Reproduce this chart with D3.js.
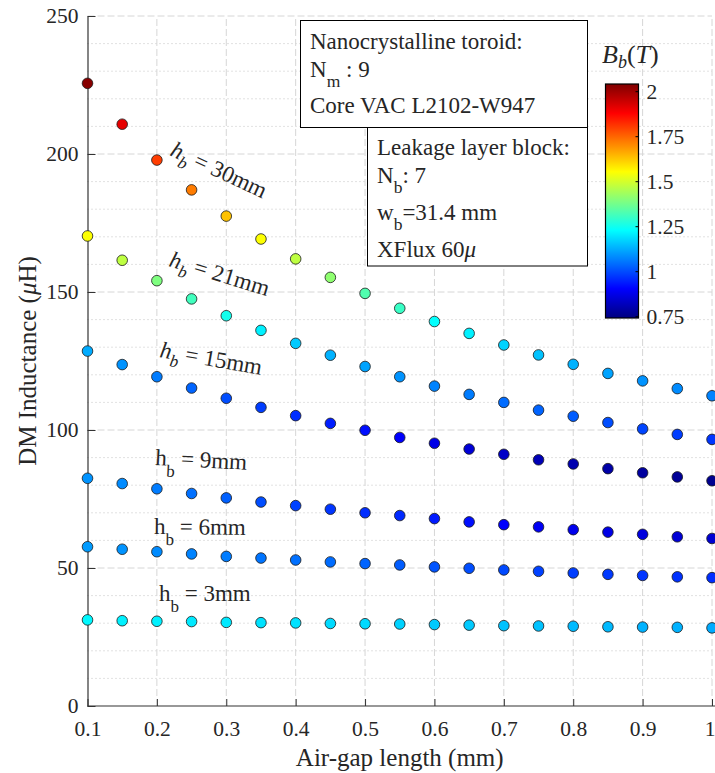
<!DOCTYPE html>
<html>
<head>
<meta charset="utf-8">
<script src="https://cdn.jsdelivr.net/npm/d3@7"></script>
<style>
  body { margin: 0; background: #fff; }
  svg { display: block; }
  text { font-family: "Liberation Serif", "Times New Roman", serif; fill: #262626; }
</style>
</head>
<body>
<div id="chart"></div>
<script>
// air-gap lengths (mm)
const airGap = [0.1, 0.15, 0.2, 0.25, 0.3, 0.35, 0.4, 0.45, 0.5, 0.55, 0.6, 0.65, 0.7, 0.75, 0.8, 0.85, 0.9, 0.95, 1.0];

// block heights
const hbNames = ['30', '21', '15', '9', '6', '3'];

// DM inductance (uH) per block height
const induct30 = [225.6, 210.8, 197.8, 187.0, 177.5, 169.2, 162.0, 155.3, 149.5, 144.1, 139.3, 135.0, 130.8, 127.2, 123.8, 120.5, 117.8, 115.0, 112.4];
const induct21 = [170.3, 161.5, 154.1, 147.5, 141.4, 136.1, 131.4, 127.1, 123.0, 119.3, 115.9, 112.9, 110.0, 107.2, 105.0, 102.7, 100.4, 98.4, 96.6];
const induct15 = [128.6, 123.7, 119.3, 115.2, 111.5, 108.2, 105.2, 102.4, 99.9, 97.3, 95.2, 93.1, 91.2, 89.2, 87.7, 86.0, 84.5, 83.0, 81.6];
const induct9 = [82.5, 80.6, 78.7, 77.0, 75.4, 73.9, 72.6, 71.3, 70.0, 69.0, 67.9, 66.7, 65.7, 64.9, 63.9, 63.0, 62.2, 61.3, 60.7];
const induct6 = [57.7, 56.8, 55.9, 55.1, 54.2, 53.6, 52.9, 52.2, 51.6, 51.1, 50.4, 49.9, 49.3, 48.8, 48.2, 47.7, 47.3, 46.8, 46.5];
const induct3 = [31.2, 30.9, 30.7, 30.6, 30.3, 30.2, 30.1, 29.9, 29.8, 29.7, 29.5, 29.3, 29.1, 29.0, 28.9, 28.7, 28.6, 28.5, 28.3];

// peak flux density in the block, B_b (T)
const flux30 = [2.03, 1.91, 1.80, 1.72, 1.63, 1.55, 1.47, 1.41, 1.33, 1.30, 1.23, 1.21, 1.17, 1.15, 1.13, 1.11, 1.09, 1.08, 1.07];
const flux21 = [1.55, 1.47, 1.39, 1.31, 1.25, 1.21, 1.16, 1.13, 1.11, 1.09, 1.07, 1.06, 1.04, 1.03, 1.02, 1.00, 0.99, 0.98, 0.97];
const flux15 = [1.12, 1.09, 1.06, 1.03, 1.00, 0.98, 0.96, 0.94, 0.92, 0.90, 0.87, 0.85, 0.83, 0.81, 0.80, 0.79, 0.78, 0.77, 0.76];
const flux9 = [1.09, 1.08, 1.06, 1.045, 1.025, 1.00, 0.985, 0.97, 0.96, 0.955, 0.935, 0.92, 0.90, 0.89, 0.88, 0.87, 0.86, 0.85, 0.845];
const flux6 = [1.10, 1.09, 1.08, 1.07, 1.06, 1.05, 1.045, 1.04, 1.03, 1.02, 1.01, 1.00, 0.995, 0.985, 0.98, 0.975, 0.97, 0.965, 0.96];
const flux3 = [1.22, 1.21, 1.21, 1.20, 1.20, 1.19, 1.19, 1.18, 1.18, 1.17, 1.16, 1.16, 1.15, 1.15, 1.14, 1.14, 1.13, 1.13, 1.12];

const xTicks = [0.1, 0.2, 0.3, 0.4, 0.5, 0.6, 0.7, 0.8, 0.9, 1];
const yTicks = [0, 50, 100, 150, 200, 250];
const cbTicks = [0.75, 1, 1.25, 1.5, 1.75, 2];
const cbLimits = [0.74, 2.04];

const inductances = [induct30, induct21, induct15, induct9, induct6, induct3];
const fluxes = [flux30, flux21, flux15, flux9, flux6, flux3];

const W = 715, H = 773;
const svg = d3.select('#chart').append('svg').attr('width', W).attr('height', H);

const x = d3.scaleLinear().domain([0.1, 1]).range([87.5, 712]);
const y = d3.scaleLinear().domain([0, 250]).range([706, 16]);

// jet colormap like matlab
function jet(t) {
  const c = v => Math.max(0, Math.min(1, v));
  const r = c(1.5 - Math.abs(4 * t - 3));
  const g = c(1.5 - Math.abs(4 * t - 2));
  const b = c(1.5 - Math.abs(4 * t - 1));
  return d3.rgb(r * 255, g * 255, b * 255).formatHex();
}
const cnorm = d3.scaleLinear().domain(cbLimits).range([0, 1]).clamp(true);
const color = v => jet(cnorm(v));

// grid
const grid = svg.append('g');
grid.selectAll('.minor')
  .data(y.ticks(25).filter(d => d % 50 !== 0))
  .enter().append('line')
  .attr('x1', x(0.1)).attr('x2', x(1))
  .attr('y1', d => y(d)).attr('y2', d => y(d))
  .attr('stroke', '#c4c4c4').attr('stroke-width', 1)
  .attr('stroke-dasharray', '1,3');
grid.selectAll('.hmajor')
  .data(yTicks.filter(d => d > 0))
  .enter().append('line')
  .attr('x1', x(0.1)).attr('x2', x(1))
  .attr('y1', d => y(d)).attr('y2', d => y(d))
  .attr('stroke', '#d6d6d6').attr('stroke-width', 1)
  .attr('stroke-dasharray', '7,3');
grid.selectAll('.vmajor')
  .data(xTicks.slice(1))
  .enter().append('line')
  .attr('x1', d => x(d)).attr('x2', d => x(d))
  .attr('y1', y(0)).attr('y2', y(250))
  .attr('stroke', '#d6d6d6').attr('stroke-width', 1)
  .attr('stroke-dasharray', '7,3');

// axes (ticks point inward, matlab style)
const xAxis = svg.append('g')
  .attr('transform', `translate(0,${y(0)})`)
  .call(d3.axisBottom(x).tickValues(xTicks).tickSize(-7).tickSizeOuter(0).tickPadding(15)
    .tickFormat(d => d === 1 ? '1' : d3.format('.1f')(d)));
const yAxis = svg.append('g')
  .attr('transform', `translate(${x(0.1)},0)`)
  .call(d3.axisLeft(y).tickValues(yTicks).tickSize(-8).tickSizeOuter(0).tickPadding(9));
[xAxis, yAxis].forEach(a => {
  a.select('.domain').attr('stroke', '#333').attr('stroke-width', 1.2);
  a.selectAll('.tick line').attr('stroke', '#333');
  a.selectAll('.tick text').style('font-size', '21.5px').attr('fill', '#262626');
});
xAxis.select('.domain').attr('d', `M${x(0.1)},0H${W}`);
xAxis.selectAll('.tick text').filter(d => d === 1).attr('dx', -2.5);

// points
const g = svg.append('g');
inductances.forEach((vals, i) => {
  g.selectAll(null)
    .data(airGap.map((a, j) => ({ a, L: vals[j], B: fluxes[i][j] })))
    .enter().append('circle')
    .attr('cx', d => x(d.a))
    .attr('cy', d => y(d.L))
    .attr('r', 5.3)
    .attr('fill', d => color(d.B))
    .attr('stroke', '#1a1a1a')
    .attr('stroke-width', 0.8);
});

// rich text helper: parts {t, it, sub}
function rich(sel, parts, size, subSize, subDy) {
  let down = false;
  parts.forEach(p => {
    const ts = sel.append('tspan').text(p.t);
    if (p.it) ts.style('font-style', 'italic');
    if (p.sub) {
      ts.style('font-size', subSize + 'px').attr('dy', subDy);
      down = true;
    } else {
      ts.style('font-size', size + 'px');
      if (down) { ts.attr('dy', -subDy); down = false; }
    }
  });
}

// block height labels
const hbPos = [
  { x: 169, y: 155, r: 25, it: true },
  { x: 168, y: 266, r: 17, it: true },
  { x: 159, y: 357, r: 10, it: true },
  { x: 155, y: 465, r: 3, it: false },
  { x: 154, y: 534, r: 0.5, it: false },
  { x: 159, y: 601, r: 0, it: false }
];
hbNames.forEach((n, i) => {
  const p = hbPos[i];
  const t = svg.append('text').attr('transform', `translate(${p.x},${p.y}) rotate(${p.r})`);
  rich(t, [{ t: 'h', it: p.it }, { t: 'b', it: p.it, sub: true }, { t: ' = ' + n + 'mm' }], 23, 17, p.it ? 7 : 11);
});

// annotation boxes
svg.append('rect').attr('x', 300.5).attr('y', 20.5).attr('width', 287).attr('height', 107)
  .attr('fill', '#fff').attr('stroke', '#000').attr('stroke-width', 1);
svg.append('rect').attr('x', 367.5).attr('y', 127.5).attr('width', 220).attr('height', 138.5)
  .attr('fill', '#fff').attr('stroke', '#000').attr('stroke-width', 1);

const boxLines = [
  { x: 310, y: 49, parts: [{ t: 'Nanocrystalline toroid:' }] },
  { x: 310, y: 77, parts: [{ t: 'N' }, { t: 'm', sub: true }, { t: ' : 9' }] },
  { x: 310, y: 113, parts: [{ t: 'Core VAC L2102-W947' }] },
  { x: 377, y: 155, parts: [{ t: 'Leakage layer block:' }] },
  { x: 377, y: 183, parts: [{ t: 'N' }, { t: 'b', sub: true }, { t: ': 7' }] },
  { x: 377, y: 220, parts: [{ t: 'w' }, { t: 'b', sub: true }, { t: '=31.4 mm' }] },
  { x: 377, y: 257, parts: [{ t: 'XFlux 60' }, { t: 'μ', it: true }] }
];
boxLines.forEach(l => {
  const t = svg.append('text').attr('x', l.x).attr('y', l.y);
  rich(t, l.parts, 23, 17.5, 10);
});

// colorbar
const cb = { x: 605.5, w: 33, top: 84, bottom: 318 };
const cy = d3.scaleLinear().domain(cbLimits).range([cb.bottom, cb.top]);
const grad = svg.append('defs').append('linearGradient')
  .attr('id', 'jet').attr('x1', 0).attr('y1', 1).attr('x2', 0).attr('y2', 0);
d3.range(0, 1.0001, 1 / 64).forEach(t => {
  grad.append('stop').attr('offset', t).attr('stop-color', jet(t));
});
svg.append('rect').attr('x', cb.x).attr('y', cb.top).attr('width', cb.w).attr('height', cb.bottom - cb.top)
  .attr('fill', 'url(#jet)').attr('stroke', '#000').attr('stroke-width', 1.2);
const cbAxis = svg.append('g')
  .attr('transform', `translate(${cb.x + cb.w},0)`)
  .call(d3.axisRight(cy).tickValues(cbTicks).tickSize(-3).tickSizeOuter(0).tickPadding(8)
    .tickFormat(d => String(d)));
cbAxis.select('.domain').remove();
cbAxis.selectAll('.tick line').attr('stroke', '#000');
cbAxis.selectAll('.tick text').style('font-size', '21.5px').attr('fill', '#262626');

const cbTitle = svg.append('text').attr('x', 602).attr('y', 63);
rich(cbTitle, [{ t: 'B', it: true }, { t: 'b', it: true, sub: true }, { t: '(' }, { t: 'T', it: true }, { t: ')' }], 26, 18, 5);

// axis titles
svg.append('text').attr('x', x(0.55)).attr('y', 766).attr('text-anchor', 'middle')
  .style('font-size', '25px').text('Air-gap length (mm)');
const yl = svg.append('text').attr('transform', `translate(36,${y(125)}) rotate(-90)`).attr('text-anchor', 'middle');
rich(yl, [{ t: 'DM Inductance (' }, { t: 'μ', it: true }, { t: 'H)' }], 25, 17, 0);
</script>
</body>
</html>
